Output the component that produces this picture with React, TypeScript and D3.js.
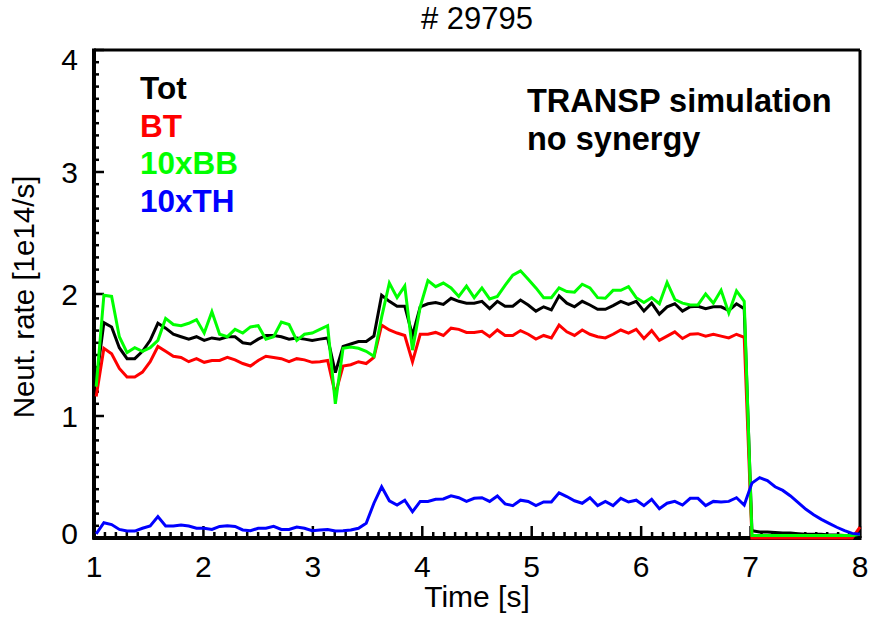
import React, { useEffect } from "react";
import * as d3 from "d3";

const T0 = 1.02;
const DT = 0.0705;

const tot = [
  1.28, 1.765, 1.73, 1.56, 1.47, 1.47, 1.53, 1.62, 1.76, 1.72,
  1.67, 1.65, 1.63, 1.65, 1.62, 1.64, 1.63, 1.65, 1.65, 1.60,
  1.59, 1.63, 1.66, 1.66, 1.65, 1.63, 1.64, 1.63, 1.62, 1.63,
  1.64, 1.355, 1.57, 1.59, 1.61, 1.61, 1.655, 1.99, 1.94, 1.90,
  1.90, 1.66, 1.895, 1.92, 1.93, 1.915, 1.965, 1.94, 1.925, 1.925,
  1.94, 1.88, 1.94, 1.90, 1.90, 1.95, 1.91, 1.86, 1.895, 1.87,
  1.985, 1.925, 1.895, 1.94, 1.91, 1.875, 1.875, 1.905, 1.94, 1.915,
  1.94, 1.86, 1.925, 1.835, 1.895, 1.92, 1.86, 1.895, 1.90, 1.88,
  1.895, 1.895, 1.865, 1.92, 1.88, 0.06, 0.05, 0.05, 0.045, 0.04,
  0.04, 0.035, 0.03, 0.03, 0.03, 0.025, 0.025, 0.02, 0.02, 0.05,
];

const bt = [
  1.16, 1.555, 1.51, 1.39, 1.32, 1.32, 1.36, 1.445, 1.57, 1.53,
  1.49, 1.48, 1.445, 1.47, 1.44, 1.455, 1.455, 1.48, 1.46, 1.43,
  1.41, 1.455, 1.49, 1.48, 1.47, 1.445, 1.47, 1.46, 1.44, 1.445,
  1.455, 1.18, 1.41, 1.42, 1.445, 1.43, 1.48, 1.745, 1.705, 1.68,
  1.66, 1.445, 1.67, 1.67, 1.685, 1.66, 1.72, 1.71, 1.685, 1.685,
  1.695, 1.65, 1.705, 1.66, 1.66, 1.70, 1.67, 1.63, 1.66, 1.64,
  1.745, 1.69, 1.66, 1.705, 1.67, 1.65, 1.64, 1.67, 1.705, 1.68,
  1.71, 1.635, 1.70, 1.62, 1.655, 1.69, 1.635, 1.67, 1.675, 1.655,
  1.67, 1.655, 1.64, 1.67, 1.645, 0, 0, 0, 0, 0,
  0, 0, 0, 0, 0, 0, 0, 0, 0, 0.09,
];

const bb10 = [
  1.24, 1.99, 1.98, 1.65, 1.52, 1.56, 1.53, 1.56, 1.62, 1.80,
  1.75, 1.74, 1.76, 1.79, 1.68, 1.855, 1.67, 1.65, 1.71, 1.68,
  1.73, 1.74, 1.63, 1.65, 1.77, 1.75, 1.62, 1.67, 1.68, 1.71,
  1.74, 1.10, 1.555, 1.565, 1.555, 1.53, 1.49, 1.81, 2.09, 1.97,
  2.065, 1.54, 1.895, 2.11, 2.06, 2.09, 2.05, 1.98, 2.065, 1.97,
  2.05, 1.96, 1.98, 2.07, 2.155, 2.19, 2.12, 2.05, 1.97, 1.97,
  2.05, 2.02, 2.015, 2.08, 2.05, 1.97, 1.965, 2.03, 2.03, 2.06,
  1.97, 1.93, 1.97, 1.92, 2.095, 1.955, 1.925, 1.91, 1.91, 2.00,
  1.925, 2.03, 1.845, 2.025, 1.94, 0.02, 0.02, 0.02, 0.02, 0.02,
  0.02, 0.02, 0.02, 0.02, 0.02, 0.02, 0.02, 0.02, 0.02, 0.03,
];

const th10 = [
  0.033, 0.125, 0.11, 0.07, 0.057, 0.057, 0.08, 0.098, 0.175, 0.098,
  0.098, 0.107, 0.098, 0.08, 0.08, 0.07, 0.095, 0.10, 0.095, 0.066,
  0.06, 0.08, 0.08, 0.095, 0.07, 0.07, 0.09, 0.08, 0.06, 0.066,
  0.07, 0.057, 0.06, 0.066, 0.08, 0.12, 0.285, 0.42, 0.305, 0.27,
  0.31, 0.215, 0.30, 0.30, 0.317, 0.32, 0.345, 0.33, 0.30, 0.325,
  0.33, 0.30, 0.345, 0.28, 0.265, 0.31, 0.30, 0.265, 0.295, 0.295,
  0.37, 0.34, 0.305, 0.285, 0.33, 0.265, 0.30, 0.265, 0.325, 0.295,
  0.31, 0.265, 0.317, 0.24, 0.285, 0.30, 0.27, 0.325, 0.325, 0.265,
  0.30, 0.295, 0.30, 0.33, 0.27, 0.45, 0.495, 0.47, 0.42, 0.39,
  0.345, 0.29, 0.235, 0.19, 0.153, 0.12, 0.088, 0.06, 0.038, 0.03,
];

const times = d3.range(tot.length).map((i) => T0 + i * DT);

const xTicks = [1, 2, 3, 4, 5, 6, 7, 8];
const yTicks = [0, 1, 2, 3, 4];

const seriesNames = ["Tot", "BT", "10xBB", "10xTH"];
const seriesColors = ["#000000", "#ff0000", "#00ff00", "#0000ff"];
const seriesValues = [tot, bt, bb10, th10];

const title = "# 29795";
const xTitle = "Time [s]";
const yTitle = "Neut. rate [1e14/s]";
const note = ["TRANSP simulation", "no synergy"];

const W = 869;
const H = 617;
const L = 94;
const R = 860;
const T = 50;
const B = 538;
const FONT = "'Liberation Sans', Arial, Helvetica, sans-serif";

export default function App() {
  useEffect(() => {
    document.body.style.margin = "0";
  }, []);

  const x = d3.scaleLinear().domain([1, 8]).range([L, R]);
  const y = d3.scaleLinear().domain([0, 4]).range([B, T]);

  const line = d3
    .line<number>()
    .x((_, i) => x(times[i]))
    .y((d) => y(d));

  const xMinor = d3.range(10, 81).map((v) => v / 10);
  const yMinor = d3.range(0, 41).map((v) => v / 10);

  return (
    <svg width={W} height={H} style={{ display: "block", background: "#fff" }}>
      <defs>
        <clipPath id="plotClip">
          <rect x={L} y={T - 2} width={R - L + 2} height={B - T + 4} />
        </clipPath>
      </defs>
      <text x={(L + R) / 2} y={29} textAnchor="middle" fontFamily={FONT} fontSize={31}>
        {title}
      </text>

      {/* frame */}
      <line x1={L} y1={T} x2={R} y2={T} stroke="#000" strokeWidth={3} />
      <line x1={R} y1={T} x2={R} y2={B} stroke="#000" strokeWidth={3} />
      <line x1={L} y1={T - 1.5} x2={L} y2={B + 1.5} stroke="#000" strokeWidth={4} />
      <line x1={L - 1.5} y1={B} x2={R + 1.5} y2={B} stroke="#000" strokeWidth={4} />

      {/* x ticks */}
      {xMinor.map((v) => {
        const major = Math.abs(v - Math.round(v)) < 1e-6;
        return (
          <line
            key={"xm" + v}
            x1={x(v)}
            x2={x(v)}
            y1={B}
            y2={B - (major ? 12 : 6)}
            stroke="#000"
            strokeWidth={2.5}
          />
        );
      })}
      {yMinor.map((v) => {
        const major = Math.abs(v - Math.round(v)) < 1e-6;
        return (
          <line
            key={"ym" + v}
            x1={L}
            x2={L + (major ? 10 : 5)}
            y1={y(v)}
            y2={y(v)}
            stroke="#000"
            strokeWidth={2.5}
          />
        );
      })}

      {xTicks.map((v) => (
        <text key={"xl" + v} x={x(v)} y={577} textAnchor="middle" fontFamily={FONT} fontSize={30}>
          {v}
        </text>
      ))}
      {yTicks.map((v) => {
        const cy = Math.min(Math.max(y(v), T + 9), B - 5);
        return (
          <text key={"yl" + v} x={78} y={cy + 10.5} textAnchor="end" fontFamily={FONT} fontSize={30}>
            {v}
          </text>
        );
      })}

      <text x={(L + R) / 2} y={607} textAnchor="middle" fontFamily={FONT} fontSize={30}>
        {xTitle}
      </text>
      <text
        transform={`translate(34, ${(T + B) / 2 + 3}) rotate(-90)`}
        textAnchor="middle"
        fontFamily={FONT}
        fontSize={29.5}
      >
        {yTitle}
      </text>

      {/* series */}
      <g clipPath="url(#plotClip)">
        {seriesValues.map((vals, k) => (
          <path
            key={seriesNames[k]}
            d={line(vals) || ""}
            fill="none"
            stroke={seriesColors[k]}
            strokeWidth={3}
            strokeLinejoin="miter"
          />
        ))}
      </g>

      {/* legend */}
      {seriesNames.map((n, k) => (
        <text
          key={"lg" + n}
          x={140}
          y={99 + k * 37.7}
          fontFamily={FONT}
          fontWeight="bold"
          fontSize={31.5}
          fill={seriesColors[k]}
        >
          {n}
        </text>
      ))}

      {note.map((s, k) => (
        <text key={"nt" + k} x={527} y={112 + k * 37.5} fontFamily={FONT} fontWeight="bold" fontSize={32.5}>
          {s}
        </text>
      ))}
    </svg>
  );
}
